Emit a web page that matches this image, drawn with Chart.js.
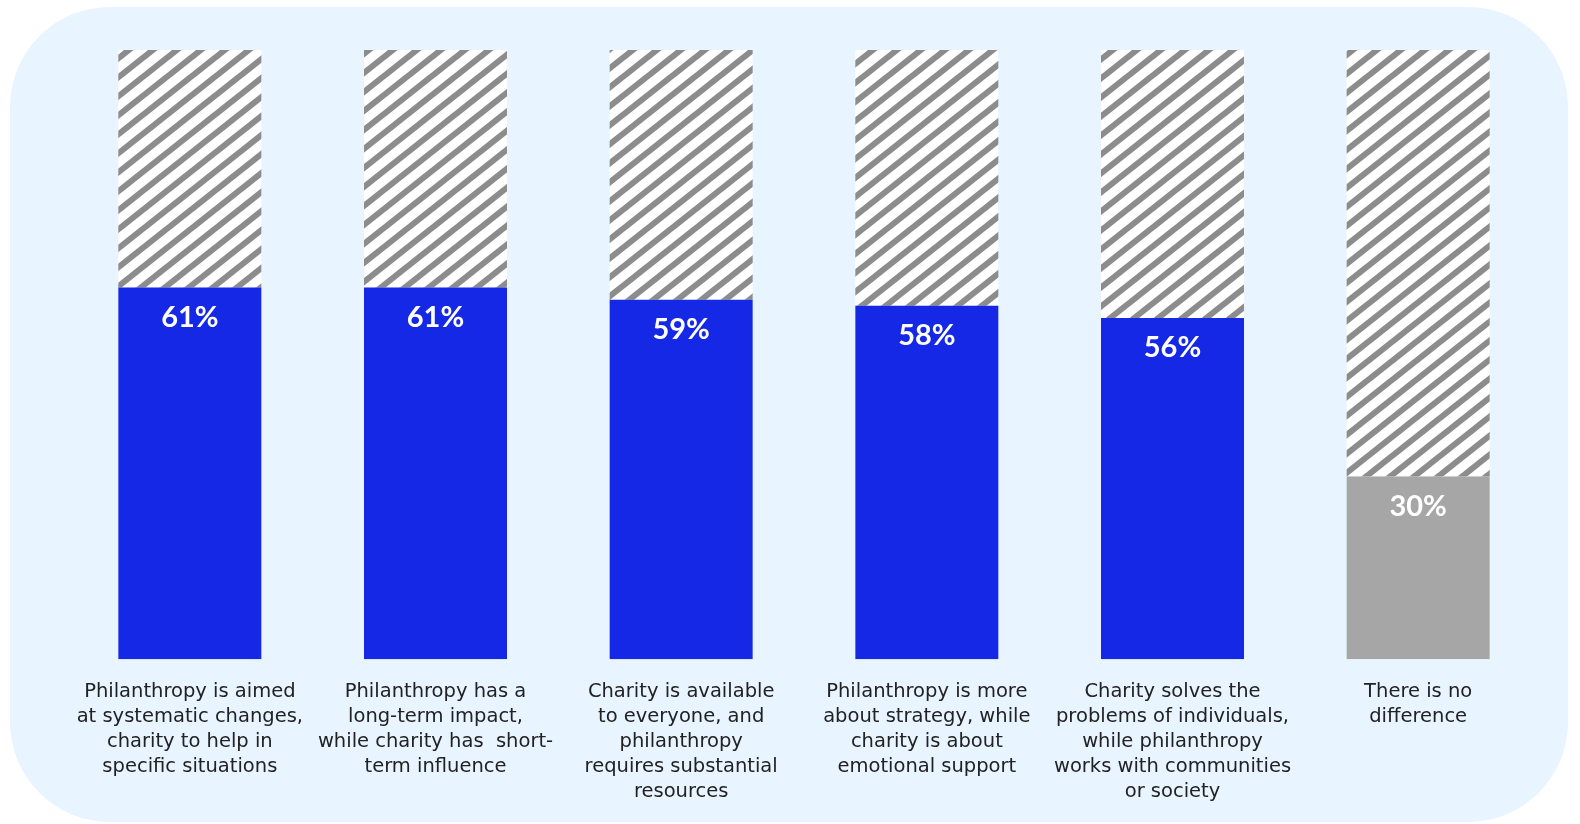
<!DOCTYPE html>
<html lang="en">
<head>
    <meta charset="UTF-8">
    <title>Philanthropy vs charity</title>
    <script src="https://cdn.jsdelivr.net/npm/chart.js@4.4.2/dist/chart.umd.min.js"></script>
    <style>
        body {
          margin: 0;
          padding: 0;
          background-color: #fff;}
        .panel {
          position: absolute;
          left: 10px;
          top: 7px;
          width: 1558px;
          height: 815px;
          border-radius: 100px;
          background-color: #e8f4ff;}
        .wrap {
          position: absolute;
          left: 0;
          top: 0;
          width: 1580px;
          height: 824px;}
    </style>
</head>
<body>
    <div class="panel"></div>
    <div class="wrap"><canvas id="diffChart" width="1580" height="824"></canvas></div>
<script>
// answers, one array of lines per bar
const categories = [
    ['Philanthropy is aimed', 'at systematic changes,', 'charity to help in', 'specific situations'],
    ['Philanthropy has a', 'long-term impact,', 'while charity has  short-', 'term influence'],
    ['Charity is available', 'to everyone, and', 'philanthropy', 'requires substantial', 'resources'],
    ['Philanthropy is more', 'about strategy, while', 'charity is about', 'emotional support'],
    ['Charity solves the', 'problems of individuals,', 'while philanthropy', 'works with communities', 'or society'],
    ['There is no', 'difference']
];
const shares = [61, 61, 59, 58, 56, 30];
const barColors = ['#1428e6', '#1428e6', '#1428e6', '#1428e6', '#1428e6', '#a6a6a6'];

// diagonal stripes for the rest of each bar
function makeHatch() {
    const w = 24, h = 19;
    const c = document.createElement('canvas');
    c.width = w; c.height = h;
    const g = c.getContext('2d');
    g.fillStyle = '#fff';
    g.fillRect(0, 0, w, h);
    g.strokeStyle = '#8c8c8c';
    g.lineWidth = 6;
    // lines run past the tile edges so the repeat is seamless
    for (let k = -2; k <= 2; k++) {
        g.beginPath();
        g.moveTo(k * w - w, 2 * h);
        g.lineTo(k * w + 2 * w, -h);
        g.stroke();}
    return g.createPattern(c, 'repeat');}

// white percent labels just under the top of each filled bar
const valueLabels = {
    id: 'valueLabels',
    afterDatasetsDraw(chart) {
        const ctx = chart.ctx;
        const meta = chart.getDatasetMeta(0);
        ctx.save();
        ctx.fillStyle = '#fff';
        ctx.font = 'bold 29px Lato';
        ctx.textAlign = 'center';
        ctx.textBaseline = 'middle';
        meta.data.forEach((bar, i) => {
            ctx.fillText(shares[i] + '%', bar.x, bar.y + 30);});
        ctx.restore();}};

const ctx = document.getElementById('diffChart').getContext('2d');
const diffChart = new Chart(ctx, {
    type: 'bar',
    data: {
        labels: categories,
        datasets: [{
            data: shares,
            backgroundColor: barColors,
            barPercentage: 0.582,
            categoryPercentage: 1},
        {
            data: shares.map(v => 100 - v),
            backgroundColor: makeHatch(),
            barPercentage: 0.582,
            categoryPercentage: 1}]},
    options: {
        responsive: false,
        animation: false,
        layout: {padding: {left: 67, right: 39, top: 50, bottom: 7}},
        plugins: {
            legend: {display: false},
            tooltip: {enabled: false}},
        scales: {
            x: {
                stacked: true,
                grid: {display: false},
                border: {display: false},
                ticks: {
                    color: '#222',
                    padding: 12,
                    maxRotation: 0,
                    autoSkip: false,
                    font: {family: 'DejaVu Sans', size: 19.5, lineHeight: 1.29}}},
            y: {
                stacked: true,
                display: false,
                min: 0,
                max: 100}}},
    plugins: [valueLabels]});
</script>
</body>
</html>
